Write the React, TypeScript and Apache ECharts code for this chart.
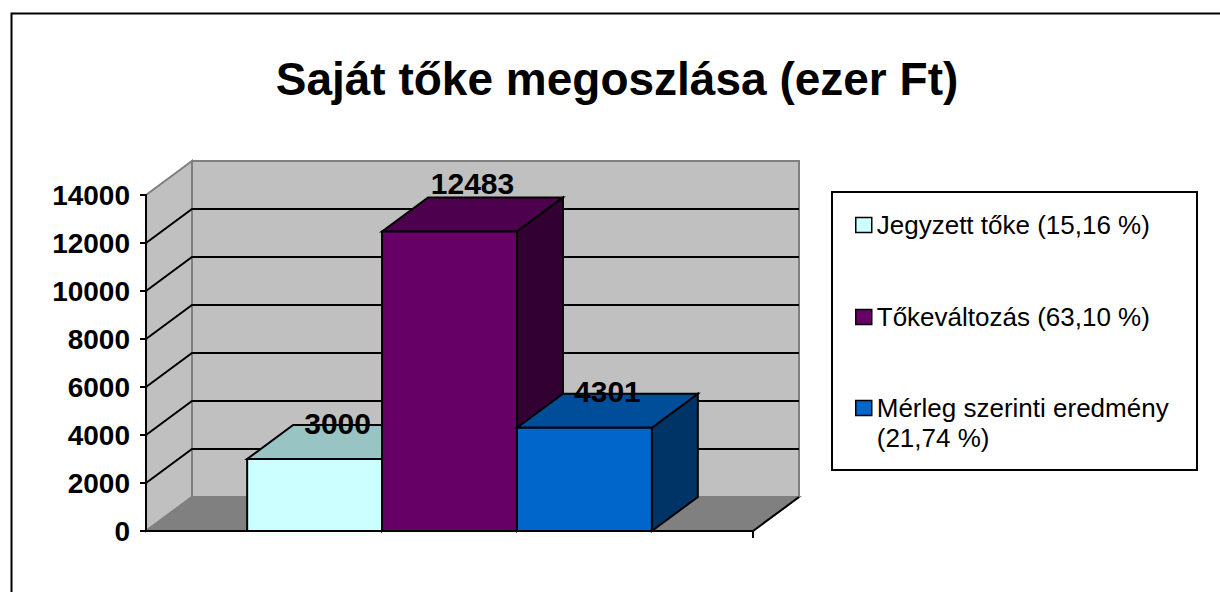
import React, { useEffect, useRef } from "react";
import * as echarts from "echarts";

const TITLE = "Saját tőke megoszlása (ezer Ft)";
const SERIES_NAMES = [
  "Jegyzett tőke (15,16 %)",
  "Tőkeváltozás (63,10 %)",
  "Mérleg szerinti eredmény\n(21,74 %)",
];
const VALUES = [3000, 12483, 4301];
const Y_MIN = 0;
const Y_MAX = 14000;
const Y_STEP = 2000;
const GRID_VALUES = [2000, 4000, 6000, 8000, 10000, 12000];

// horizontal extent of the floor, in bar widths (gap width 150 %)
const X_MAX = 4.5;
const BAR_START = 0.75;

const FRONT = ["#CCFFFF", "#660066", "#0066CC"];
const TOP = ["#99C4C4", "#4D004D", "#004D99"];
const SIDE = ["#669999", "#330033", "#003366"];
const DX = 46;
const DY = -34;
const LABEL_LIFT = [0, 12, 0];
const FONT = '"Liberation Sans", Arial, sans-serif';

export default function App() {
  const ref = useRef<HTMLDivElement>(null);
  useEffect(() => {
    if (!ref.current) return;
    const chart = echarts.init(ref.current, undefined, { renderer: "svg" });
    const back = (p: number[]) => [p[0] + DX, p[1] + DY];

    const wallsSeries: any = {
      type: "custom",
      name: "walls",
      z: -5,
      silent: true,
      data: [[0, 0]],
      renderItem: (_params: any, api: any) => {
        const fl = api.coord([0, Y_MIN]);
        const fr = api.coord([X_MAX, Y_MIN]);
        const tl = api.coord([0, Y_MAX]);
        const tr = api.coord([X_MAX, Y_MAX]);
        const children: any[] = [
          {
            type: "polygon",
            shape: { points: [back(fl), back(fr), back(tr), back(tl)] },
            style: { fill: "#C0C0C0", stroke: "#808080", lineWidth: 2 },
          },
          {
            type: "polygon",
            shape: { points: [fl, tl, back(tl), back(fl)] },
            style: { fill: "#C0C0C0", stroke: "#808080", lineWidth: 2 },
          },
          {
            type: "polygon",
            shape: { points: [fl, fr, back(fr), back(fl)] },
            style: { fill: "#808080", stroke: "#808080", lineWidth: 2 },
          },
        ];
        GRID_VALUES.forEach((v) => {
          const a = api.coord([0, v]);
          const b = api.coord([X_MAX, v]);
          children.push({
            type: "polyline",
            shape: { points: [a, back(a), back(b)] },
            style: { stroke: "#000", lineWidth: 2, fill: "none" },
          });
        });
        children.push({
          type: "line",
          shape: { x1: fr[0], y1: fr[1], x2: back(fr)[0], y2: back(fr)[1] },
          style: { stroke: "#000", lineWidth: 2 },
        });
        children.push({
          type: "line",
          shape: { x1: fr[0], y1: fr[1], x2: fr[0], y2: fr[1] + 7 },
          style: { stroke: "#000", lineWidth: 2 },
        });
        return { type: "group", children };
      },
    };

    const barSeries: any[] = VALUES.map((val, i) => ({
      type: "custom",
      name: SERIES_NAMES[i],
      z: 2 + i,
      itemStyle: { color: FRONT[i] },
      data: [[i, val]],
      renderItem: (_params: any, api: any) => {
        const idx = api.value(0);
        const v = api.value(1);
        const p0 = api.coord([BAR_START + idx, 0]);
        const p1 = api.coord([BAR_START + idx + 1, v]);
        const x0 = p0[0], y0 = p0[1], x1 = p1[0], y1 = p1[1];
        const stroke = { stroke: "#000", lineWidth: 2, lineJoin: "miter" };
        return {
          type: "group",
          children: [
            {
              type: "polygon",
              shape: { points: [[x1, y0], [x1 + DX, y0 + DY], [x1 + DX, y1 + DY], [x1, y1]] },
              style: { fill: SIDE[i], ...stroke },
            },
            {
              type: "polygon",
              shape: { points: [[x0, y1], [x1, y1], [x1 + DX, y1 + DY], [x0 + DX, y1 + DY]] },
              style: { fill: TOP[i], ...stroke },
            },
            {
              type: "rect",
              shape: { x: x0, y: y1, width: x1 - x0, height: y0 - y1 },
              style: { fill: FRONT[i], ...stroke },
            },
            {
              type: "text",
              x: (x0 + x1) / 2 + DX / 2,
              y: y1 + DY / 2 - 19 - LABEL_LIFT[i],
              style: {
                text: String(v),
                fontSize: 30,
                fontWeight: "bold",
                fontFamily: FONT,
                fill: "#000",
                align: "center",
                verticalAlign: "middle",
              },
            },
          ],
        };
      },
    }));

    const legendCommon = {
      orient: "vertical",
      left: 855,
      padding: 0,
      icon: "rect",
      itemWidth: 16,
      itemHeight: 15,
      selectedMode: false,
      itemStyle: { borderColor: "#000", borderWidth: 1.5 },
      textStyle: { fontSize: 26, fontFamily: FONT, color: "#000", lineHeight: 30 },
    };

    chart.setOption({
      animation: false,
      backgroundColor: "#fff",
      title: {
        text: TITLE,
        left: 612,
        textAlign: "center",
        top: 51,
        textStyle: { fontSize: 46, fontWeight: "bold", fontFamily: FONT, color: "#000" },
      },
      grid: { left: 146, top: 195, width: 607, height: 336, containLabel: false },
      xAxis: {
        type: "value",
        min: 0,
        max: X_MAX,
        axisLine: { show: true, lineStyle: { color: "#000", width: 2 } },
        axisTick: { show: false },
        axisLabel: { show: false },
        splitLine: { show: false },
      },
      yAxis: {
        type: "value",
        min: Y_MIN,
        max: Y_MAX,
        interval: Y_STEP,
        axisLine: { show: true, lineStyle: { color: "#000", width: 2 } },
        axisTick: { show: true, length: 6, lineStyle: { color: "#000", width: 2 } },
        axisLabel: {
          margin: 16,
          fontSize: 28,
          fontWeight: "bold",
          fontFamily: FONT,
          color: "#000",
          formatter: (v: number) => String(v),
        },
        splitLine: { show: false },
      },
      legend: [
        { ...legendCommon, top: 210, data: [SERIES_NAMES[0]] },
        { ...legendCommon, top: 302, data: [SERIES_NAMES[1]] },
        {
          ...legendCommon,
          top: 363,
          data: [SERIES_NAMES[2]],
          formatter: (name: string) => " \n" + name,
        },
      ],
      graphic: [
        {
          type: "rect",
          z: -10,
          shape: { x: 11.5, y: 13.5, width: 1230, height: 600 },
          style: { fill: "none", stroke: "#000", lineWidth: 2 },
        },
        {
          type: "rect",
          z: -10,
          shape: { x: 832, y: 192, width: 365, height: 278 },
          style: { fill: "#fff", stroke: "#000", lineWidth: 2 },
        },
      ],
      series: [wallsSeries, ...barSeries],
    });
    return () => chart.dispose();
  }, []);
  return (
    <div
      ref={ref}
      style={{ position: "fixed", left: 0, top: 0, width: 1220, height: 592, background: "#fff" }}
    />
  );
}
